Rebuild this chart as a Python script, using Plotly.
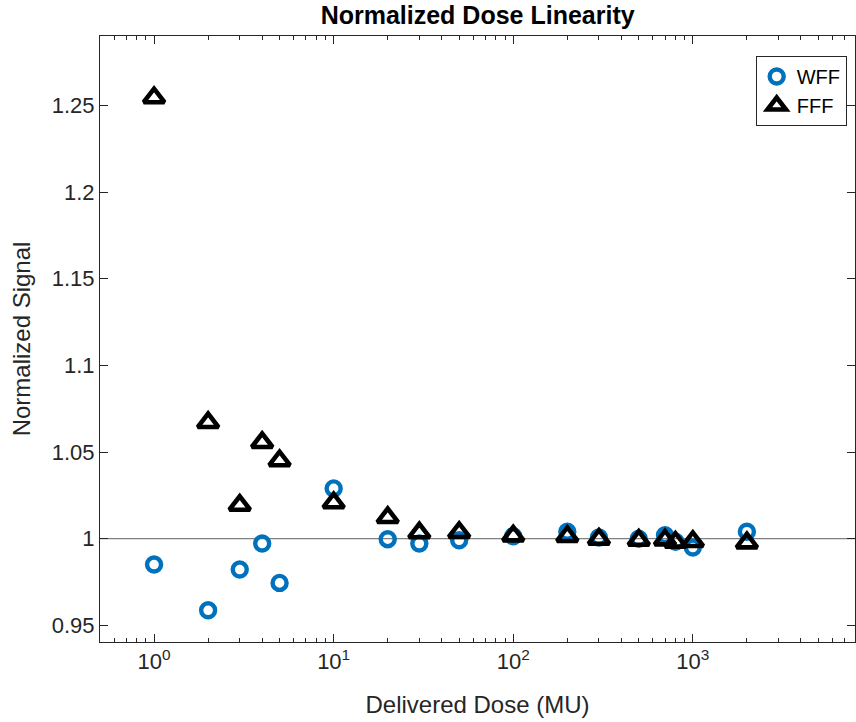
import plotly.graph_objects as go

dose = [1, 2, 3, 4, 5, 10, 20, 30, 50, 100, 200, 300, 500, 700, 800, 1000, 2000]
wff = [0.9851, 0.9587, 0.9822, 0.9972, 0.9745, 1.0290, 0.9997, 0.9972, 0.9991, 1.0014,
       1.0040, 1.0007, 1.0000, 1.0020, 0.9982, 0.9949, 1.0040]
fff = [1.2544, 1.0670, 1.0193, 1.0555, 1.0450, 1.0207, 1.0122, 1.0034, 1.0036, 1.0016,
       1.0013, 0.9997, 0.9991, 0.9993, 0.9980, 0.9984, 0.9976]

x_tickvals = [1, 10, 100, 1000]
x_ticktext = ["10<sup>0</sup>", "10<sup>1</sup>", "10<sup>2</sup>", "10<sup>3</sup>"]
x_minor = [0.6, 0.7, 0.8, 0.9] + [m * d for d in (1, 10, 100, 1000) for m in range(2, 10) if m * d < 8000]
y_tickvals = [0.95, 1.0, 1.05, 1.1, 1.15, 1.2, 1.25]
y_ticktext = ["0.95", "1", "1.05", "1.1", "1.15", "1.2", "1.25"]

FONT = "Liberation Sans, Arial, Helvetica, sans-serif"
AX = "#262626"

fig = go.Figure()
fig.add_trace(go.Scatter(
    x=dose, y=wff, mode="markers", name="WFF",
    marker=dict(symbol="circle-open", size=14, color="#0072BD",
                line=dict(width=4.4, color="#0072BD")),
))
fig.add_trace(go.Scatter(
    x=dose, y=fff, mode="markers", name="FFF",
    marker=dict(symbol="triangle-up-open", size=18, color="black",
                line=dict(width=4.6, color="black")),
))

fig.add_hline(y=1, line=dict(color="#808080", width=1.2), layer="below")

fig.update_layout(
    width=856, height=722,
    margin=dict(l=100, r=1, t=36, b=80),
    plot_bgcolor="white", paper_bgcolor="white",
    font=dict(family=FONT, size=22, color=AX),
    title=dict(text="<b>Normalized Dose Linearity</b>", x=0.558, xanchor="center",
               y=0.979, yanchor="middle", font=dict(size=25, color="black", family=FONT)),
    showlegend=True,
    legend=dict(x=0.989, xanchor="right", y=0.967, yanchor="top",
                bordercolor=AX, borderwidth=1, bgcolor="white",
                font=dict(size=20, color="black"), tracegroupgap=0,
                itemwidth=30, itemsizing="trace"),
)
fig.update_xaxes(
    type="log", range=[-0.301, 3.903],
    tickvals=x_tickvals, ticktext=x_ticktext,
    ticks="inside", ticklen=8, tickcolor=AX, tickwidth=1,
    showline=True, linecolor=AX, linewidth=1, mirror="ticks",
    showgrid=False, zeroline=False,
    minor=dict(tickmode="array", tickvals=x_minor, ticks="inside", ticklen=4,
               tickcolor=AX, tickwidth=1, showgrid=False),
    title=dict(text="Delivered Dose (MU)", font=dict(size=24, color=AX), standoff=22),
    tickfont=dict(size=22, color=AX),
)
fig.update_yaxes(
    range=[0.9404, 1.290],
    tickvals=y_tickvals, ticktext=y_ticktext,
    ticks="inside", ticklen=8, tickcolor=AX, tickwidth=1,
    showline=True, linecolor=AX, linewidth=1, mirror="ticks",
    showgrid=False, zeroline=False,
    title=dict(text="Normalized Signal", font=dict(size=24, color=AX), standoff=14),
    tickfont=dict(size=22, color=AX),
)

fig.write_html("out.html")
